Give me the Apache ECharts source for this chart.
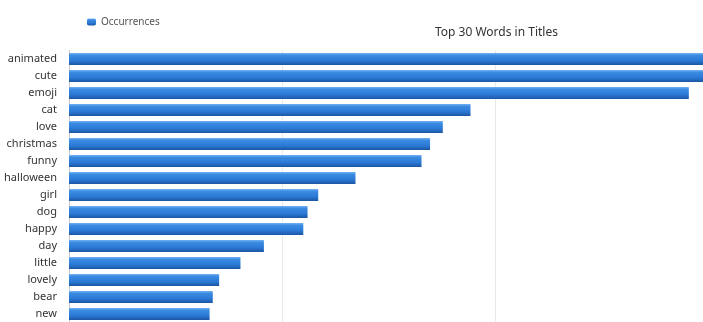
<!DOCTYPE html>
<html>
<head>
<meta charset="utf-8">
<script src="https://cdn.jsdelivr.net/npm/echarts@6/dist/echarts.min.js"></script>
<style>
html,body{margin:0;padding:0;background:#fff;}
#chart{width:703px;height:322px;}
</style>
</head>
<body>
<div id="chart"></div>
<script>
const categories = ["animated","cute","emoji","cat","love","christmas","funny","halloween","girl","dog","happy","day","little","lovely","bear","new"];
const occurrences = [650, 630, 582, 377, 351, 339, 331, 269, 234, 224, 220, 183, 161, 141, 135, 132];
const seriesName = "Occurrences";
const titleText = "Top 30 Words in Titles";

const chart = echarts.init(document.getElementById('chart'), null, {renderer: 'canvas'});
chart.setOption({
  animation: false,
  backgroundColor: '#ffffff',
  title: {
    text: titleText,
    left: 430, top: 22,
    textStyle: {fontFamily: 'Noto Sans', fontSize: 12, fontWeight: 'normal', color: '#333'}
  },
  legend: {
    left: 82, top: 12,
    itemWidth: 9, itemHeight: 7, itemGap: 6,
    textStyle: {fontFamily: 'Noto Sans', fontSize: 10, color: '#555'},
    data: [seriesName]
  },
  grid: {left: 69, top: 50.5, width: 852, height: 272, containLabel: false, outerBoundsMode: 'none'},
  xAxis: {
    type: 'value', min: 0, max: 800, interval: 200,
    axisLabel: {show: false}, axisTick: {show: false}, axisLine: {show: false},
    splitLine: {show: true, lineStyle: {color: '#e9e9e9', width: 1}}
  },
  yAxis: {
    type: 'category', inverse: true, data: categories,
    axisTick: {show: false},
    axisLine: {show: true, lineStyle: {color: '#c8c8c8', width: 1}},
    axisLabel: {fontFamily: 'Noto Sans', fontSize: 11, color: '#333', margin: 12}
  },
  series: [{
    name: seriesName, type: 'bar', data: occurrences, barWidth: 12,
    itemStyle: {
      color: new echarts.graphic.LinearGradient(0, 0, 0, 1, [
        {offset: 0, color: '#74b2f2'},
        {offset: 0.2, color: '#3b8be2'},
        {offset: 0.65, color: '#2a78d4'},
        {offset: 1, color: '#1a56a2'}
      ])
    }
  }]
});
</script>
</body>
</html>
